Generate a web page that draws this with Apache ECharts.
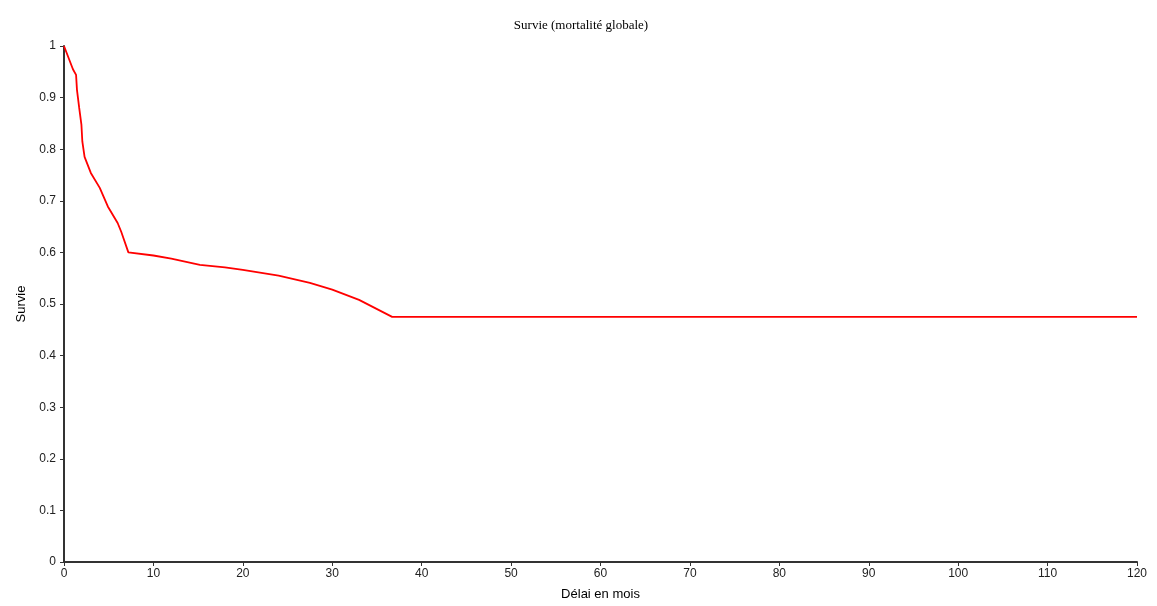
<!DOCTYPE html>
<html>
<head>
<meta charset="utf-8">
<script src="https://cdn.jsdelivr.net/npm/echarts@6/dist/echarts.min.js"></script>
<style>html,body{margin:0;padding:0;background:#fff}#c{width:1157px;height:606px}</style>
</head>
<body>
<div id="c"></div>
<script>
var months = [0, 1.0, 1.35, 1.45, 1.7, 1.95, 2.05, 2.3, 3.0, 4.0, 4.9, 6.0, 6.4, 7.2, 10, 12, 15.2, 18, 20, 24, 27.5, 30, 33, 36.7, 120];
var survival = [1, 0.955, 0.944, 0.915, 0.88, 0.847, 0.815, 0.785, 0.754, 0.725, 0.689, 0.657, 0.640, 0.600, 0.594, 0.588, 0.576, 0.571, 0.566, 0.555, 0.541, 0.528, 0.508, 0.475, 0.475];
var titleText = 'Survie (mortalité globale)';
var xName = 'Délai en mois';
var yName = 'Survie';

var data = months.map(function (m, i) { return [m, survival[i]]; });
var chart = echarts.init(document.getElementById('c'));
chart.setOption({
  animation: false,
  backgroundColor: '#fff',
  title: {
    text: titleText, left: 576, top: 14, textAlign: 'center',
    textStyle: { fontFamily: 'Liberation Serif', fontSize: 13, fontWeight: 'normal', color: '#000' }
  },
  grid: { left: 64, right: 20, top: 46, bottom: 44 },
  xAxis: {
    type: 'value', min: 0, max: 120, interval: 10,
    name: xName, nameLocation: 'middle', nameGap: 26,
    nameTextStyle: { fontFamily: 'Liberation Sans', fontSize: 13, color: '#000' },
    axisLine: { lineStyle: { color: '#333', width: 2 } },
    axisTick: { length: 4, lineStyle: { color: '#333' } },
    axisLabel: { fontFamily: 'Liberation Sans', fontSize: 12, color: '#222', margin: 6 },
    splitLine: { show: false }
  },
  yAxis: {
    type: 'value', min: 0, max: 1, interval: 0.1,
    name: yName, nameLocation: 'middle', nameGap: 36, nameRotate: 90,
    nameTextStyle: { fontFamily: 'Liberation Sans', fontSize: 13, color: '#000' },
    axisLine: { show: true, lineStyle: { color: '#333', width: 2 } },
    axisTick: { show: true, length: 4, lineStyle: { color: '#333' } },
    axisLabel: { fontFamily: 'Liberation Sans', fontSize: 12, color: '#222', margin: 8,
      formatter: function (v) { return String(Math.round(v * 10) / 10); } },
    splitLine: { show: false }
  },
  series: [{
    type: 'line', data: data, showSymbol: false, symbol: 'none',
    lineStyle: { color: '#ff0000', width: 1.8 }
  }]
});
</script>
</body>
</html>
